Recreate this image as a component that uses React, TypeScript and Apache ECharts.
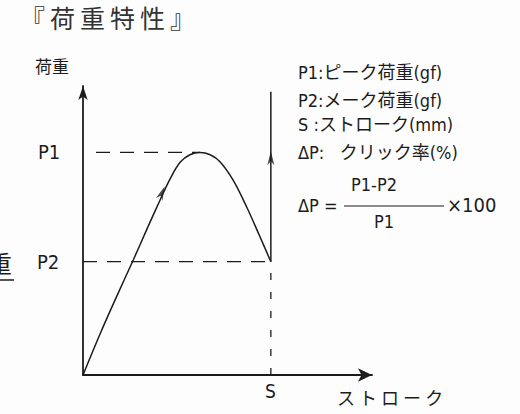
import React, { useEffect, useRef } from "react";
import * as echarts from "echarts";

// Stroke (x) / load (y) in relative units, axis range 0..100
const P1 = 77;
const P2 = 39.2;
const S = 65;
const CURVE_STROKE = [0, 5.9, 11.7, 17.4, 22, 26.6, 30.1, 33.6, 37, 40.5, 44, 47.4, 51.9, 56.6, 61.2, 65];
const CURVE_LOAD = [0, 14.2, 27.3, 39.8, 50.2, 60.4, 67.8, 73.6, 76.2, 77, 76.2, 73.8, 67.5, 58.2, 47.9, 39.2];
const JUMP_TOP = 98;
const P1_DASH_START = 4.5;
const PEAK_STROKE = 40.5;
const ARROWS = [
  { stroke: 27.3, load: 63, angle: -23 },
  { stroke: 65, load: 75, angle: 0 },
];
const LEGEND_LINES = ["P1:ピーク荷重(gf)", "P2:メーク荷重(gf)", "S :ストローク(mm)", "ΔP:   クリック率(%)"];

const INK = "#1c1c1c";
const FONT = "'Liberation Sans Narrow', 'DejaVu Sans Condensed', 'Noto Sans CJK JP', sans-serif";
const CJK = "'Noto Sans CJK JP', sans-serif";

export default function App() {
  const ref = useRef<HTMLDivElement>(null);
  useEffect(() => {
    if (!ref.current) return;
    const chart = echarts.init(ref.current, null, { renderer: "svg" });
    const curve = CURVE_STROKE.map((x, i) => [x, CURVE_LOAD[i]]);
    const dashed = { color: INK, width: 1.3, type: [14, 10] as any };
    chart.setOption({
      animation: false,
      backgroundColor: "#fdfdfd",
      grid: { left: 83, top: 86, width: 289, height: 289 },
      xAxis: {
        type: "value", min: 0, max: 100,
        axisLine: { show: true, symbol: ["none", "arrow"], symbolSize: [10, 14], lineStyle: { color: INK, width: 1.8 } },
        axisTick: { show: false }, axisLabel: { show: false }, splitLine: { show: false },
      },
      yAxis: {
        type: "value", min: 0, max: 100,
        axisLine: { show: true, symbol: ["none", "arrow"], symbolSize: [7, 14], lineStyle: { color: INK, width: 1.8 } },
        axisTick: { show: false }, axisLabel: { show: false }, splitLine: { show: false },
      },
      series: [
        { type: "line", data: curve, smooth: 0.35, showSymbol: false, lineStyle: { color: INK, width: 1.5 } },
        { type: "line", data: [[S, P2], [S, JUMP_TOP]], showSymbol: false, lineStyle: { color: INK, width: 1.5 } },
        { type: "line", data: [[P1_DASH_START, P1], [PEAK_STROKE, P1]], showSymbol: false, lineStyle: dashed },
        { type: "line", data: [[0, P2], [S, P2]], showSymbol: false, lineStyle: dashed },
        { type: "line", data: [[S, 0], [S, P2]], showSymbol: false, lineStyle: { color: INK, width: 1.3, type: [7, 12] } },
        {
          type: "scatter",
          data: ARROWS.map((a) => [a.stroke, a.load, a.angle]),
          symbol: "path://M0,0 L5,14 L0,10 L-5,14 Z",
          symbolSize: [7, 14],
          symbolRotate: (v: number[]) => v[2],
          itemStyle: { color: INK },
          silent: true,
        },
      ],
      graphic: [
        { type: "text", left: 20, top: 4, style: { text: "『\u2009荷\u2009重\u2009特\u2009性\u2009』", font: `normal 25px ${CJK}`, fill: "#333" } },
        { type: "text", left: 35, top: 57, style: { text: "荷重", font: `normal 17px ${CJK}`, fill: INK } },
        { type: "text", left: 38, top: 142, style: { text: "P1", font: `normal 20px ${FONT}`, fill: INK } },
        { type: "text", left: 37, top: 252, style: { text: "P2", font: `normal 20px ${FONT}`, fill: INK } },
        { type: "text", left: 265, top: 381, style: { text: "S", font: `normal 19px ${FONT}`, fill: INK } },
        { type: "text", left: 337, top: 388, style: { text: "ス ト ロ ー ク", font: `normal 18px ${CJK}`, fill: INK } },
        { type: "text", left: -12, top: 250, style: { text: "重", font: `normal 24px ${CJK}`, fill: INK } },
        { type: "line", shape: { x1: 0, y1: 280, x2: 14, y2: 280 }, style: { stroke: INK, lineWidth: 1.5 } },
        ...LEGEND_LINES.map((t, i) => ({
          type: "text", left: 298, top: [63, 91, 115, 143][i],
          style: { text: t, font: `normal 18px ${FONT}`, fill: INK },
        })),
        { type: "text", left: 298, top: 196, style: { text: "ΔP =", font: `normal 18px ${FONT}`, fill: INK } },
        { type: "text", left: 351, top: 175, style: { text: "P1-P2", font: `normal 18px ${FONT}`, fill: INK } },
        { type: "line", shape: { x1: 344, y1: 206, x2: 444, y2: 206 }, style: { stroke: INK, lineWidth: 1.1 } },
        { type: "text", left: 374, top: 212, style: { text: "P1", font: `normal 18px ${FONT}`, fill: INK } },
        { type: "text", left: 447, top: 195, style: { text: "×100", font: `normal 20px ${FONT}`, fill: INK } },
      ],
    });
    return () => chart.dispose();
  }, []);
  return <div ref={ref} style={{ position: "fixed", left: 0, top: 0, width: 520, height: 414 }} />;
}
